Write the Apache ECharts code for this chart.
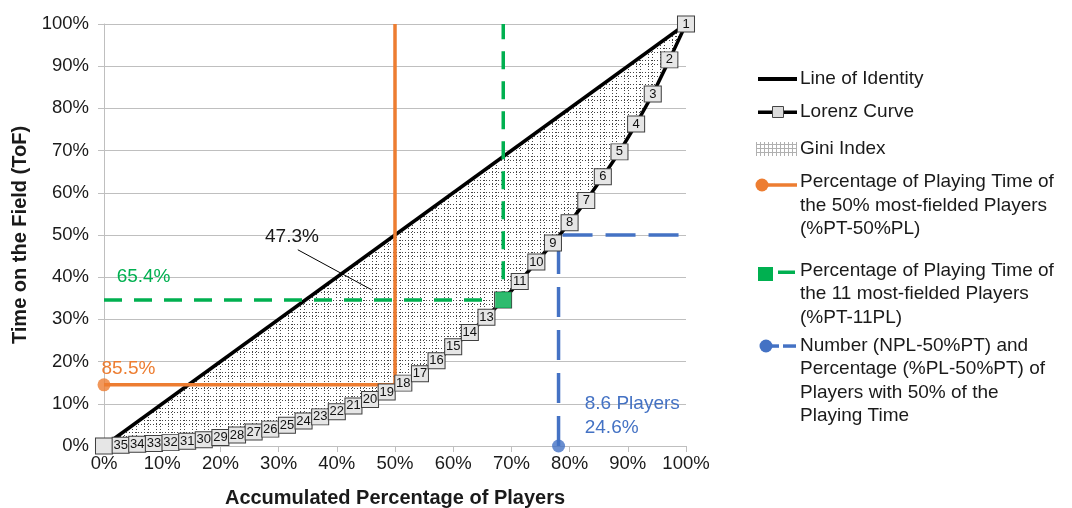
<!DOCTYPE html>
<html>
<head>
<meta charset="utf-8">
<script src="https://cdn.jsdelivr.net/npm/echarts@6/dist/echarts.min.js"></script>
<style>
html, body { margin: 0; padding: 0; background: #fff; }
#chart { width: 1072px; height: 508px; }
</style>
</head>
<body>
<div id="chart"></div>
<script>
// accumulated share of players (35 players) and their accumulated share of playing time
var lorenzX = [0, 2.86, 5.71, 8.57, 11.43, 14.29, 17.14, 20, 22.86, 25.71, 28.57, 31.43,
    34.29, 37.14, 40, 42.86, 45.71, 48.57, 51.43, 54.29, 57.14, 60, 62.86, 65.71, 68.57,
    71.43, 74.29, 77.14, 80, 82.86, 85.71, 88.57, 91.43, 94.29, 97.14, 100];
var lorenzY = [0, 0.2, 0.4, 0.6, 0.8, 1.1, 1.5, 2.0, 2.6, 3.3, 4.0, 4.9, 5.9, 6.9, 8.1,
    9.5, 11.0, 12.8, 14.9, 17.1, 20.2, 23.5, 26.9, 30.5, 34.6, 39.0, 43.6, 48.1, 52.9,
    58.2, 63.8, 69.7, 76.3, 83.4, 91.5, 100];
// player rank shown in each box ('12' sits under the green %PT-11PL marker)
var playerLabels = ['', '35', '34', '33', '32', '31', '30', '29', '28', '27', '26', '25',
    '24', '23', '22', '21', '20', '19', '18', '17', '16', '15', '14', '13', '', '11',
    '10', '9', '8', '7', '6', '5', '4', '3', '2', '1'];

var identityLine = [[0, 0], [100, 100]];
var pt50Line = [[0, 14.5], [50, 14.5], [50, 100]];      // %PT-50%PL
var pt11Line = [[0, 34.6], [68.6, 34.6], [68.6, 100]];  // %PT-11PL
var npl50Line = [[78.1, 0], [78.1, 50], [100, 50]];     // NPL-50%PT
var giniLeader = [[33.3, 46.5], [46, 37]];

var FONT = '"Liberation Sans", Arial, sans-serif';
var ORANGE = '#ED7D31', GREEN = '#00B050', BLUE = '#4472C4';

// dotted double-line grid used for the Gini area
function makeHatch() {
    var size = 12;
    var c = document.createElement('canvas');
    c.width = size; c.height = size;
    var ctx = c.getContext('2d');
    ctx.fillStyle = '#fff';
    ctx.fillRect(0, 0, size, size);
    ctx.fillStyle = '#444';
    for (var i = 0; i < size; i += 3) {
        ctx.fillRect(i, 0, 1, 1);
        ctx.fillRect(i, 4, 1, 1);
        ctx.fillRect(0, i, 1, 1);
        ctx.fillRect(4, i, 1, 1);
    }
    return c;
}
function makeLegendHatch() {
    var c = document.createElement('canvas');
    c.width = 4; c.height = 4;
    var ctx = c.getContext('2d');
    ctx.fillStyle = '#fff';
    ctx.fillRect(0, 0, 4, 4);
    ctx.fillStyle = '#b0b0b0';
    ctx.fillRect(0, 0, 4, 1);
    ctx.fillRect(0, 0, 1, 4);
    return c;
}

var hatch = { image: makeHatch(), repeat: 'repeat' };
var legendHatch = { image: makeLegendHatch(), repeat: 'repeat' };

var lorenzData = lorenzX.map(function (x, i) { return [x, lorenzY[i]]; });

function legendText(x, y, text, multi) {
    return {
        type: 'text', x: x, y: y, silent: true,
        style: {
            text: text, fontFamily: FONT, fontSize: 19, fill: '#1a1a1a', lineHeight: 23.5,
            verticalAlign: multi ? 'top' : 'middle'
        }
    };
}

var legendEls = [
    { type: 'rect', shape: { x: 758, y: 77, width: 39, height: 4 }, style: { fill: '#000' } },
    legendText(800, 79, 'Line of Identity'),
    { type: 'rect', shape: { x: 758, y: 110.5, width: 39, height: 3.5 }, style: { fill: '#000' } },
    { type: 'rect', shape: { x: 772.5, y: 106.5, width: 11, height: 11 }, style: { fill: '#dcdcdc', stroke: '#444', lineWidth: 1 } },
    legendText(800, 112, 'Lorenz Curve'),
    { type: 'rect', shape: { x: 756, y: 142, width: 41, height: 14 }, style: { fill: legendHatch } },
    legendText(800, 149, 'Gini Index'),
    { type: 'rect', shape: { x: 762, y: 183.3, width: 35, height: 3.5 }, style: { fill: ORANGE } },
    { type: 'circle', shape: { cx: 762, cy: 185, r: 6.5 }, style: { fill: ORANGE } },
    legendText(800, 170.5, 'Percentage of Playing Time of\nthe 50% most-fielded Players\n(%PT-50%PL)', true),
    { type: 'rect', shape: { x: 758, y: 267, width: 15, height: 14 }, style: { fill: GREEN } },
    { type: 'rect', shape: { x: 778, y: 270.5, width: 17, height: 3.5 }, style: { fill: GREEN } },
    legendText(800, 259, 'Percentage of Playing Time of\nthe 11 most-fielded Players\n(%PT-11PL)', true),
    { type: 'rect', shape: { x: 766, y: 344.3, width: 13, height: 3.5 }, style: { fill: BLUE } },
    { type: 'rect', shape: { x: 783, y: 344.3, width: 13, height: 3.5 }, style: { fill: BLUE } },
    { type: 'circle', shape: { cx: 766, cy: 346, r: 6.5 }, style: { fill: BLUE } },
    legendText(800, 334, 'Number (NPL-50%PT) and\nPercentage (%PL-50%PT) of\nPlayers with 50% of the\nPlaying Time', true)
];

var chart = echarts.init(document.getElementById('chart'), null, { renderer: 'canvas' });

var option = {
    animation: false,
    backgroundColor: '#fff',
    grid: { left: 104, right: 386, top: 24, bottom: 62, outerBoundsMode: 'none', containLabel: false },
    xAxis: {
        type: 'value', min: 0, max: 100, interval: 10,
        name: 'Accumulated Percentage of Players',
        nameLocation: 'middle', nameGap: 42,
        nameTextStyle: { fontFamily: FONT, fontSize: 20, fontWeight: 'bold', color: '#1a1a1a' },
        axisLine: { show: true, lineStyle: { color: '#bfbfbf', width: 1 } },
        axisTick: { show: true, length: 6, lineStyle: { color: '#bfbfbf' } },
        axisLabel: { formatter: '{value}%', margin: 8, fontFamily: FONT, fontSize: 18.5, color: '#1a1a1a' },
        splitLine: { show: false }
    },
    yAxis: {
        type: 'value', min: 0, max: 100, interval: 10,
        name: 'Time on the Field (ToF)',
        nameLocation: 'middle', nameGap: 67, nameRotate: 90,
        nameTextStyle: { fontFamily: FONT, fontSize: 20, fontWeight: 'bold', color: '#1a1a1a' },
        axisLine: { show: true, lineStyle: { color: '#bfbfbf', width: 1 } },
        axisTick: { show: true, length: 6, lineStyle: { color: '#bfbfbf' } },
        axisLabel: { formatter: '{value}%', margin: 15, fontFamily: FONT, fontSize: 18.5, color: '#1a1a1a' },
        splitLine: { show: true, lineStyle: { color: '#bfbfbf', width: 1 } }
    },
    series: [
        {
            name: 'Gini Index',
            type: 'custom',
            z: 1,
            silent: true,
            data: [[0, 0]],
            renderItem: function (params, api) {
                var pts = identityLine.map(function (p) { return api.coord(p); });
                for (var i = lorenzX.length - 1; i >= 0; i--) {
                    pts.push(api.coord([lorenzX[i], lorenzY[i]]));
                }
                return { type: 'polygon', shape: { points: pts }, style: { fill: hatch } };
            }
        },
        {
            name: 'Line of Identity',
            type: 'line', z: 3, symbol: 'none',
            data: identityLine,
            lineStyle: { color: '#000', width: 3.5 }
        },
        {
            name: '%PT-50%PL',
            type: 'line', z: 4, symbol: 'none',
            data: pt50Line,
            lineStyle: { color: ORANGE, width: 3.5 },
            markPoint: {
                symbol: 'circle', symbolSize: 0, silent: true,
                label: { show: true, position: 'inside', fontFamily: FONT, fontSize: 19, color: ORANGE },
                data: [{ coord: [4.2, 18.2], value: '85.5%' }]
            }
        },
        {
            name: '%PT-11PL',
            type: 'line', z: 4, symbol: 'none',
            data: pt11Line,
            lineStyle: { color: GREEN, width: 3.5, type: [18, 12] },
            markPoint: {
                symbol: 'circle', symbolSize: 0, silent: true,
                label: { show: true, position: 'inside', fontFamily: FONT, fontSize: 19, color: GREEN },
                data: [{ coord: [6.8, 40.1], value: '65.4%' }]
            }
        },
        {
            name: 'NPL-50%PT',
            type: 'line', z: 4, symbol: 'none',
            data: npl50Line,
            lineStyle: { color: BLUE, width: 3.5, type: [30, 13] },
            markPoint: {
                symbol: 'circle', symbolSize: 0, silent: true,
                label: {
                    show: true, position: 'right', distance: 0, align: 'left',
                    fontFamily: FONT, fontSize: 19, color: BLUE, lineHeight: 24,
                    formatter: '8.6 Players\n24.6%'
                },
                data: [{ coord: [82.6, 7.1] }]
            }
        },
        {
            name: 'Lorenz Curve',
            type: 'line', z: 5,
            data: lorenzData,
            symbol: 'rect', symbolSize: [17, 16], showAllSymbol: true,
            lineStyle: { color: '#000', width: 3.5 },
            itemStyle: { color: '#e6e6e6', borderColor: '#404040', borderWidth: 1 },
            label: {
                show: true, position: 'inside', fontFamily: FONT, fontSize: 13, color: '#111',
                formatter: function (p) { return playerLabels[p.dataIndex]; }
            },
            labelLayout: { hideOverlap: false },
            markLine: {
                silent: true, symbol: 'none',
                lineStyle: { color: '#000', width: 1, type: 'solid' },
                label: { show: false },
                data: [[{ coord: giniLeader[0] }, { coord: giniLeader[1] }]]
            },
            markPoint: {
                symbol: 'circle', symbolSize: 0, silent: true,
                label: { show: true, position: 'inside', fontFamily: FONT, fontSize: 19, color: '#1a1a1a' },
                data: [{ coord: [32.3, 49.7], value: '47.3%' }]
            }
        },
        {
            name: 'markers',
            type: 'scatter', z: 6, silent: true,
            data: [
                { value: pt50Line[0], symbol: 'circle', symbolSize: 13, itemStyle: { color: ORANGE } },
                { value: pt11Line[1], symbol: 'rect', symbolSize: 16, itemStyle: { color: GREEN } },
                { value: npl50Line[0], symbol: 'circle', symbolSize: 13, itemStyle: { color: BLUE } }
            ]
        }
    ],
    graphic: { elements: legendEls }
};

chart.setOption(option);
</script>
</body>
</html>
